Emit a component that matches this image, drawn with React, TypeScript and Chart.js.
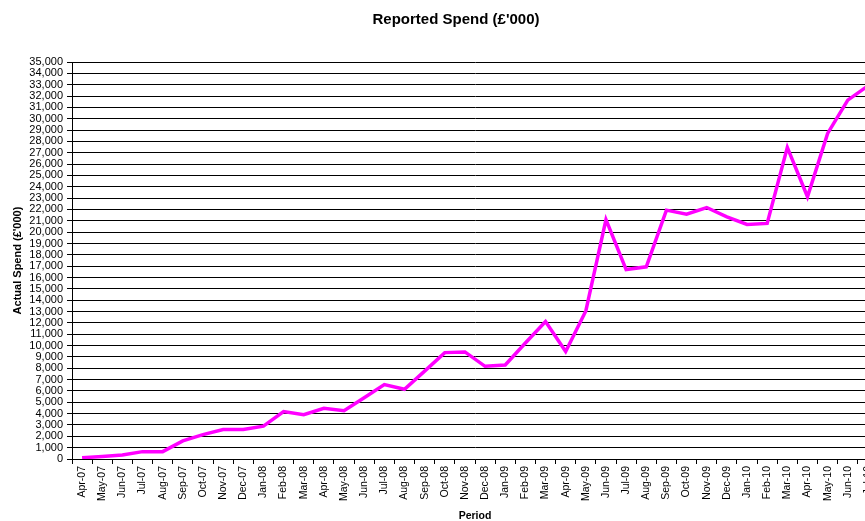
import React, { useEffect, useRef } from 'react';
import { Chart, registerables } from 'chart.js';

Chart.register(...registerables);

const categories: string[] = [
  'Apr-07', 'May-07', 'Jun-07', 'Jul-07', 'Aug-07', 'Sep-07', 'Oct-07', 'Nov-07', 'Dec-07',
  'Jan-08', 'Feb-08', 'Mar-08', 'Apr-08', 'May-08', 'Jun-08', 'Jul-08', 'Aug-08', 'Sep-08', 'Oct-08', 'Nov-08', 'Dec-08',
  'Jan-09', 'Feb-09', 'Mar-09', 'Apr-09', 'May-09', 'Jun-09', 'Jul-09', 'Aug-09', 'Sep-09', 'Oct-09', 'Nov-09', 'Dec-09',
  'Jan-10', 'Feb-10', 'Mar-10', 'Apr-10', 'May-10', 'Jun-10', 'Jul-10',
];

const actualSpend: number[] = [
  100, 230, 350, 650, 650, 1600, 2150, 2600, 2600,
  2900, 4180, 3900, 4470, 4260, 5400, 6560, 6150, 7750, 9380, 9440, 8170,
  8290, 10230, 12110, 9470, 13050, 21100, 16700, 16940, 21940, 21590, 22170, 21350,
  20680, 20770, 27470, 23120, 28700, 31640, 32900,
];

const yMin = 0;
const yMax = 35000;
const yStep = 1000;

const chartTitle = "Reported Spend (£'000)";
const yTitle = "Actual Spend (£'000)";
const xTitle = 'Period';

const FONT = "'Liberation Sans', Arial, sans-serif";

export default function App() {
  const canvasRef = useRef<HTMLCanvasElement | null>(null);

  useEffect(() => {
    const canvas = canvasRef.current;
    if (!canvas) return;
    const chart = new Chart(canvas, {
      type: 'line',
      data: {
        labels: categories,
        datasets: [
          {
            label: 'Actual Spend',
            data: actualSpend,
            borderColor: '#FF00FF',
            backgroundColor: '#FF00FF',
            borderWidth: 3.5,
            pointRadius: 0,
            tension: 0,
            fill: false,
            borderJoinStyle: 'miter',
            yAxisID: 'y',
          },
        ],
      },
      options: {
        animation: false,
        responsive: false,
        devicePixelRatio: 1,
        layout: { padding: 0 },
        plugins: {
          legend: { display: false },
          tooltip: { enabled: false },
          title: {
            display: true,
            text: chartTitle,
            color: '#000',
            font: { family: FONT, size: 15, weight: 'bold', lineHeight: 1.2 },
            padding: { top: 11, bottom: 33 },
          },
        },
        scales: {
          x: {
            type: 'category',
            offset: true,
            afterFit: (scale: any) => {
              scale.height = 62;
            },
            grid: {
              display: true,
              drawOnChartArea: false,
              drawTicks: true,
              tickLength: 5,
              offset: true,
              color: '#000',
            },
            border: { display: true, color: '#000', width: 1 },
            ticks: {
              autoSkip: false,
              maxRotation: 90,
              minRotation: 90,
              padding: 2,
              color: '#000',
              font: { family: FONT, size: 10.5 },
            },
            title: {
              display: true,
              text: xTitle,
              color: '#000',
              font: { family: FONT, size: 10.5, weight: 'bold', lineHeight: 1 },
              padding: 0,
            },
          },
          y: {
            position: 'left',
            min: yMin,
            max: yMax,
            afterFit: (scale: any) => {
              scale.width = 72;
            },
            grid: {
              display: true,
              color: '#000',
              lineWidth: 1,
              drawTicks: true,
              tickLength: 5,
            },
            border: { display: true, color: '#000', width: 1 },
            ticks: {
              stepSize: yStep,
              autoSkip: false,
              padding: 4,
              color: '#000',
              font: { family: FONT, size: 11 },
              callback: (v: any) => Number(v).toLocaleString('en-US'),
            },
            title: {
              display: true,
              text: yTitle,
              color: '#000',
              font: { family: FONT, size: 11, weight: 'bold', lineHeight: 1.2 },
              padding: { top: 11.5, bottom: 0 },
            },
          },
          yRightSpace: {
            type: 'linear',
            position: 'right',
            display: true,
            min: 0,
            max: 1,
            afterFit: (scale: any) => {
              scale.width = 34;
            },
            grid: { display: false, drawOnChartArea: false, drawTicks: false },
            border: { display: false },
            ticks: { display: false },
          },
        },
      },
    });
    return () => chart.destroy();
  }, []);

  return (
    <div
      style={{
        position: 'fixed',
        left: 0,
        top: 0,
        width: 865,
        height: 521,
        overflow: 'hidden',
        background: '#fff',
      }}
    >
      <canvas ref={canvasRef} width={912} height={521} style={{ display: 'block' }} />
    </div>
  );
}
